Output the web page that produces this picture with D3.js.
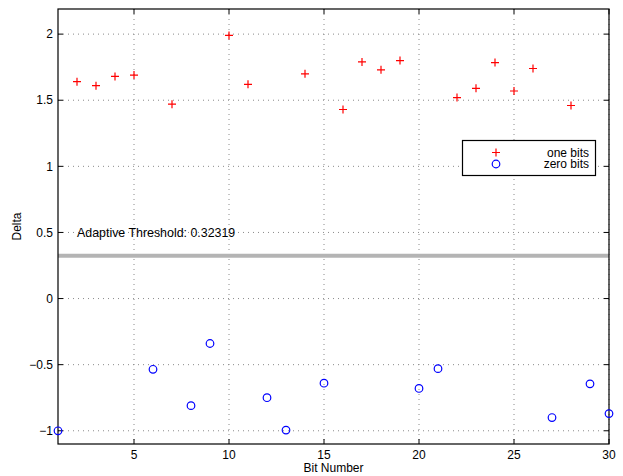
<!DOCTYPE html>
<html><head><meta charset="utf-8">
<script src="https://cdn.jsdelivr.net/npm/d3@7"></script>
<style>body{margin:0;background:#fff}svg{display:block}text{font-family:"Liberation Sans",Arial,sans-serif}</style>
</head><body><svg id="c" width="623" height="476"></svg>
<script>
const oneX = [2,3,4,5,7,10,11,14,16,17,18,19,22,23,24,25,26,28];
const oneY = [1.64,1.61,1.68,1.69,1.47,1.99,1.62,1.70,1.43,1.79,1.73,1.80,1.52,1.59,1.785,1.57,1.74,1.46];
const zeroX = [1,6,8,9,12,13,15,20,21,27,29,30];
const zeroY = [-1.0,-0.535,-0.81,-0.34,-0.75,-0.995,-0.64,-0.68,-0.53,-0.90,-0.645,-0.87];
const threshold = 0.32319;
const xTicks = [5,10,15,20,25,30];
const yTicks = [-1,-0.5,0,0.5,1,1.5,2];
const legendLabels = ["one bits","zero bits"];

const svg = d3.select("#c");
const L=58,R=609,T=9,B=444;
const x = d3.scaleLinear().domain([1,30]).range([L,R]);
const y = d3.scaleLinear().domain([-1.1,2.19]).range([B,T]);

// grid
const g = svg.append("g");
g.selectAll(".gx").data(xTicks).join("line").attr("x1",d=>x(d)).attr("x2",d=>x(d)).attr("y1",T).attr("y2",B)
 .attr("stroke","#8a8a8a").attr("stroke-width",1).attr("stroke-dasharray","1,4");
g.selectAll(".gy").data(yTicks).join("line").attr("y1",d=>y(d)).attr("y2",d=>y(d)).attr("x1",L).attr("x2",R)
 .attr("stroke","#8a8a8a").attr("stroke-width",1).attr("stroke-dasharray","1,4");

// threshold
svg.append("line").attr("x1",L).attr("x2",R).attr("y1",y(threshold)).attr("y2",y(threshold))
 .attr("stroke","#b4b4b4").attr("stroke-width",4);
svg.append("text").attr("x",x(2)).attr("y",y(0.5)).attr("dy","0.35em").attr("font-size",12.4)
 .text("Adaptive Threshold: "+threshold);

// axes
const tl=5;
const ax = svg.append("g").attr("stroke","#000").attr("stroke-width",1);
ax.append("rect").attr("x",L).attr("y",T).attr("width",R-L).attr("height",B-T).attr("fill","none").attr("stroke-width",1.2);
xTicks.forEach(t=>{
  ax.append("line").attr("x1",x(t)).attr("x2",x(t)).attr("y1",B).attr("y2",B-tl);
  ax.append("line").attr("x1",x(t)).attr("x2",x(t)).attr("y1",T).attr("y2",T+tl);
});
yTicks.forEach(t=>{
  ax.append("line").attr("y1",y(t)).attr("y2",y(t)).attr("x1",L).attr("x2",L+tl);
  ax.append("line").attr("y1",y(t)).attr("y2",y(t)).attr("x1",R).attr("x2",R-tl);
});
const fmt = d=> (d<0?"\u2212":"")+Math.abs(d);
svg.selectAll(".xl").data(xTicks).join("text").attr("x",d=>x(d)).attr("y",B+15).attr("text-anchor","middle")
 .attr("font-size",12).text(d=>d);
svg.selectAll(".yl").data(yTicks).join("text").attr("x",L-5).attr("y",d=>y(d)).attr("dy","0.35em").attr("text-anchor","end")
 .attr("font-size",12).text(fmt);
svg.append("text").attr("x",(L+R)/2).attr("y",472).attr("text-anchor","middle").attr("font-size",12).text("Bit Number");
svg.append("text").attr("transform","translate(21,"+((T+B)/2)+") rotate(-90)").attr("text-anchor","middle").attr("font-size",12).text("Delta");

// points
const plus = (sel,cx,cy)=>{
  sel.append("path").attr("d",`M${cx-4},${cy}H${cx+4}M${cx},${cy-4}V${cy+4}`).attr("stroke","#ff0000").attr("stroke-width",1.2).attr("fill","none");
};
const pg = svg.append("g");
oneX.forEach((d,i)=>plus(pg,x(d),y(oneY[i])));
svg.selectAll(".z").data(zeroX).join("circle").attr("cx",d=>x(d)).attr("cy",(d,i)=>y(zeroY[i])).attr("r",3.8)
 .attr("fill","none").attr("stroke","#0000ff").attr("stroke-width",1.2);

// legend
const lg = svg.append("g");
lg.append("rect").attr("x",462.5).attr("y",140.5).attr("width",133).attr("height",35).attr("fill","#fff").attr("stroke","#000").attr("stroke-width",1.2);
plus(lg,496,152.5);
lg.append("circle").attr("cx",496).attr("cy",164).attr("r",3.8).attr("fill","none").attr("stroke","#0000ff").attr("stroke-width",1.2);
lg.selectAll(".lt").data(legendLabels).join("text").attr("x",589).attr("y",(d,i)=>152.5+i*11.5).attr("dy","0.35em")
 .attr("text-anchor","end").attr("font-size",12).text(d=>d);
</script></body></html>
